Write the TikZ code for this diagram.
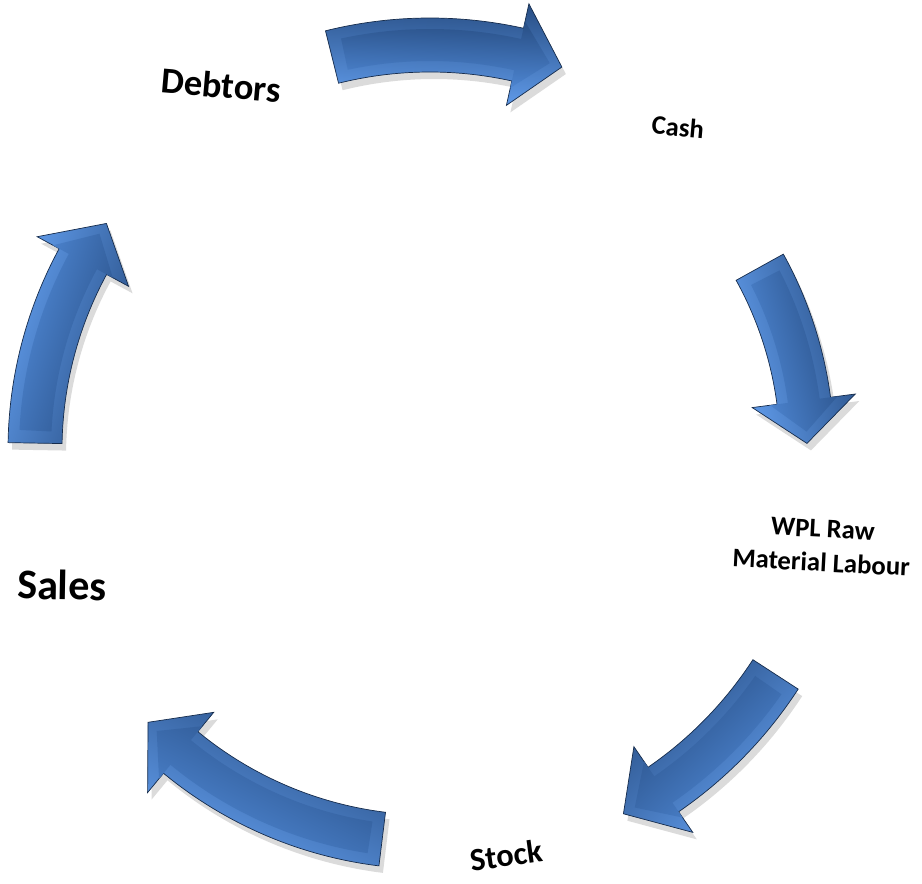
\documentclass[tikz,border=0pt]{standalone}
\usepackage{fontspec}
\setmainfont{Carlito}
\usetikzlibrary{calc}

\definecolor{arrowlight}{RGB}{98,158,238}
\definecolor{arrowmid}{RGB}{68,124,200}
\definecolor{arrowdeep}{RGB}{40,78,132}
\definecolor{arrowedge}{RGB}{22,44,76}

% curved block arrow round the centre: #1 options, #2 half width, #3 half head, #4 inset (deg)
\newcommand{\cycleshape}[4][]{%
  \path[#1] ({\a-#4}:{\r-#2}) arc[start angle={\a-#4}, end angle=\hb, radius={\r-#2}]
    -- (\hb:{\r-#3}) -- ({\b+#4}:\r) -- (\hb:{\r+#3}) -- (\hb:{\r+#2})
    arc[start angle=\hb, end angle={\a-#4}, radius={\r+#2}] -- cycle;}

\begin{document}
\begin{tikzpicture}[x=0.025cm, y=0.025cm,
  lbl/.style={text=black, inner sep=1pt},
  shade/.style={fill=black, opacity=0.14},
  rim/.style={draw=arrowedge, line width=0.5pt, top color=arrowdeep, middle color=arrowmid, bottom color=arrowlight},
  channel/.style={top color=arrowdeep, middle color=arrowmid, bottom color=arrowmid!60!arrowlight}]
\useasboundingbox (0,0) rectangle (922,883);
% ---- labels ----
\node[lbl, font=\fontsize{26}{30}\selectfont\bfseries, rotate=-5] (debtors) at (221,798) {Debtors};
\node[lbl, font=\fontsize{19}{22}\selectfont\bfseries, rotate=-5] (cash) at (678,756) {Cash};
\node[lbl, font=\fontsize{19}{24}\selectfont\bfseries, align=center, rotate=-3] (wpl) at (822,337) {WPL Raw\\Material Labour};
\node[lbl, font=\fontsize{30}{34}\selectfont\bfseries, rotate=-1] (sales) at (62,298) {Sales};
\node[lbl, font=\fontsize{23}{27}\selectfont\bfseries, rotate=8] (stock) at (506,28) {Stock};
% ---- the five arrows of the cycle ----
\begin{scope}[shift={(430,433)}]
\foreach \a/\b/\r/\s in {104/71/405/-2.5, 29/1/377/-75, -33/-62/412/42.5, -97/-136/392/-26.5, -181/-215/395/-108}{
  \pgfmathsetmacro\hb{\b+6.5}
  \begin{scope}[shift={(4,-7)}]
    \cycleshape[shade]{27}{52}{0}
  \end{scope}
  \cycleshape[rim, shading angle=\s]{27}{52}{0}
  \cycleshape[channel, shading angle=\s]{16}{34}{1.8}
}
\end{scope}
\end{tikzpicture}
\end{document}
